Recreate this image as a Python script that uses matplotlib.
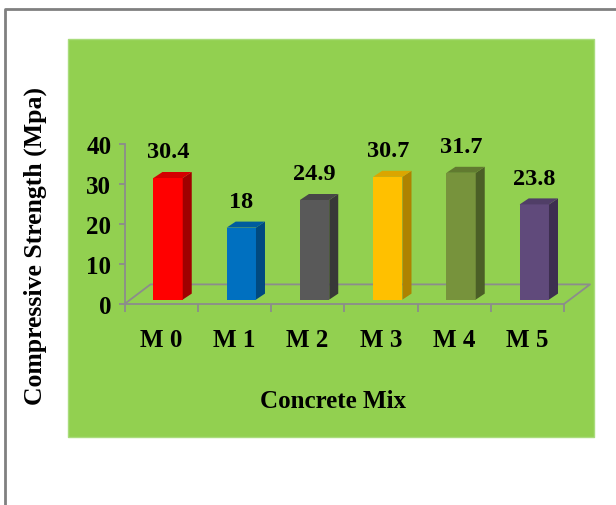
import matplotlib
matplotlib.use('Agg')
import matplotlib.pyplot as plt
from matplotlib.patches import Rectangle, Polygon
from matplotlib.lines import Line2D

# ---- data ----
categories = ['M 0', 'M 1', 'M 2', 'M 3', 'M 4', 'M 5']
strength = [30.4, 18, 24.9, 30.7, 31.7, 23.8]
value_labels = ['30.4', '18', '24.9', '30.7', '31.7', '23.8']
yticks = [0, 10, 20, 30, 40]

# ---- styles ----
front_colors = ['#FF0000', '#0070C0', '#595959', '#FFC000', '#77933C', '#604A7B']
side_colors = ['#A00000', '#004A80', '#383838', '#AE8200', '#4B5F26', '#3D2F50']
top_colors = ['#D40000', '#005C9E', '#474747', '#DBA500', '#617A30', '#503E67']
FONT = 'Liberation Serif'
GRAY = '#8C8C8C'

W, H = 616, 506
fig = plt.figure(figsize=(W / 100, H / 100), dpi=100)
fig.patch.set_facecolor('white')

# outer border (top and left)
fig.add_artist(Line2D([5 / W, 5 / W, 1], [0, 1 - 10 / H, 1 - 10 / H],
                      transform=fig.transFigure, color='#808080', lw=2, zorder=-2))
# green chart area
fig.add_artist(Rectangle((68 / W, 1 - 438 / H), 526 / W, 398 / H,
                         transform=fig.transFigure, facecolor='#92D050',
                         edgecolor='#A9DC7C', lw=1, zorder=-1))

ax = fig.add_axes([124.5 / W, (H - 305) / H, 439.5 / W, 160 / H])
ax.patch.set_visible(False)
ax.set_xlim(-0.5, 5.5)
ax.set_ylim(0, 40)
for s in ['top', 'right']:
    ax.spines[s].set_visible(False)
for s in ['left', 'bottom']:
    ax.spines[s].set_color(GRAY)
    ax.spines[s].set_linewidth(1.3)

# depth geometry (data units)
fdx, fdy = 0.355, 4.9     # floor depth
odx, ody = 0.095, 1.1     # bar placement inside floor
bdx, bdy = 0.123, 1.5     # bar depth
bw = 0.4

# floor outline
ax.plot([-0.5, -0.5 + fdx, 5.5 + fdx, 5.5], [0, fdy, fdy, 0],
        color=GRAY, lw=1.3, clip_on=False, zorder=1)

xs = list(range(len(categories)))
ax.bar([x + odx for x in xs], strength, width=bw, bottom=ody,
       color=front_colors, zorder=3, clip_on=False)
for x, v, sc, tc, lbl in zip(xs, strength, side_colors, top_colors, value_labels):
    xl = x + odx - bw / 2
    xr = x + odx + bw / 2
    y0 = ody
    y1 = ody + v
    ax.add_patch(Polygon([(xr, y0), (xr + bdx, y0 + bdy), (xr + bdx, y1 + bdy), (xr, y1)],
                         closed=True, facecolor=sc, edgecolor='none', zorder=3, clip_on=False))
    ax.add_patch(Polygon([(xl, y1), (xl + bdx, y1 + bdy), (xr + bdx, y1 + bdy), (xr, y1)],
                         closed=True, facecolor=tc, edgecolor='none', zorder=3, clip_on=False))
    ax.annotate(lbl, (x + odx, y1 + bdy), xytext=(0, 10.5), textcoords='offset points',
                ha='center', va='baseline', fontsize=17.5, fontweight='bold',
                family=FONT, color='black', zorder=4, annotation_clip=False)

ax.set_yticks(yticks)
ax.set_yticklabels([str(t) for t in yticks])
ax.tick_params(axis='y', direction='out', length=4.5, width=1.3, color=GRAY,
               pad=5, labelsize=18)
ax.set_xticks([i - 0.5 for i in range(len(categories) + 1)])
ax.set_xticklabels([])
ax.set_xticks(xs, minor=True)
ax.set_xticklabels(categories, minor=True)
ax.tick_params(axis='x', which='major', direction='out', length=6, width=1.3, color=GRAY)
ax.tick_params(axis='x', which='minor', length=0, pad=17, labelsize=18)
for t in ax.get_yticklabels() + ax.get_xticklabels(minor=True):
    t.set_fontfamily(FONT)
    t.set_fontweight('bold')

fig.text(35 / W, 1 - 246 / H, 'Compressive Strength (Mpa)', rotation=90,
         ha='center', va='center', fontsize=18.5, fontweight='bold', family=FONT)
fig.text(333 / W, 1 - 402 / H, 'Concrete Mix', ha='center', va='center',
         fontsize=18, fontweight='bold', family=FONT)

fig.savefig('out.png', dpi=100, facecolor='white')
